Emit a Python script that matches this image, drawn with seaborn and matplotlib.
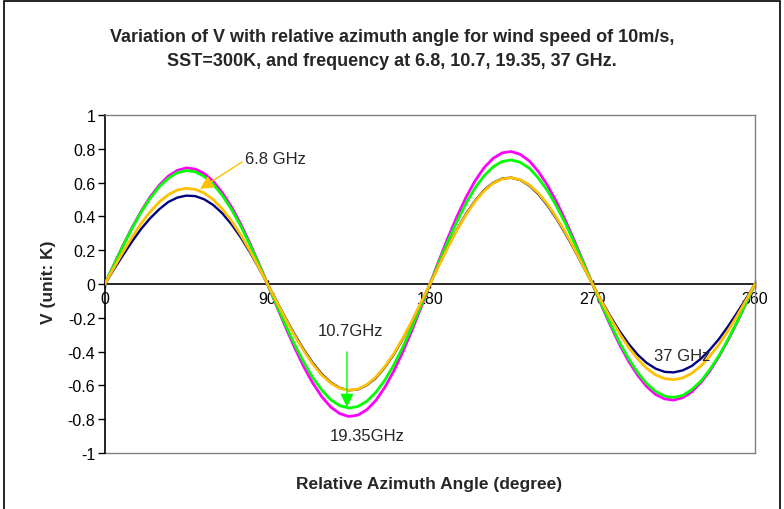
import matplotlib
matplotlib.use("Agg")
import matplotlib.pyplot as plt
import seaborn as sns
import pandas as pd
from matplotlib.patches import Rectangle

angles = list(range(0, 361, 5))

v_19_35 = [0, 0.116, 0.229, 0.334, 0.430, 0.515, 0.584, 0.638, 0.672, 0.687, 0.680, 0.654,
           0.607, 0.540, 0.457, 0.359, 0.247, 0.127, 0,
           -0.129, -0.255, -0.376, -0.488, -0.585, -0.666, -0.728, -0.767, -0.784, -0.776,
           -0.744, -0.689, -0.611, -0.514, -0.401, -0.275, -0.140, 0,
           0.140, 0.275, 0.401, 0.514, 0.611, 0.689, 0.744, 0.776, 0.784, 0.767, 0.728,
           0.666, 0.585, 0.488, 0.376, 0.255, 0.129, 0,
           -0.127, -0.247, -0.359, -0.457, -0.540, -0.607, -0.654, -0.680, -0.687, -0.672,
           -0.638, -0.584, -0.515, -0.430, -0.334, -0.229, -0.116, 0]
v_10_7 = [0, 0.114, 0.226, 0.330, 0.425, 0.507, 0.575, 0.625, 0.659, 0.671, 0.664, 0.636,
          0.589, 0.524, 0.442, 0.346, 0.237, 0.121, 0,
          -0.123, -0.243, -0.358, -0.461, -0.553, -0.627, -0.685, -0.720, -0.734, -0.725,
          -0.694, -0.641, -0.569, -0.478, -0.372, -0.255, -0.130, 0,
          0.130, 0.255, 0.372, 0.478, 0.569, 0.641, 0.694, 0.725, 0.734, 0.720, 0.685,
          0.627, 0.553, 0.461, 0.358, 0.243, 0.123, 0,
          -0.121, -0.237, -0.346, -0.442, -0.524, -0.589, -0.636, -0.664, -0.671, -0.659,
          -0.625, -0.575, -0.507, -0.425, -0.330, -0.226, -0.114, 0]
v_37 = [0, 0.088, 0.171, 0.252, 0.326, 0.389, 0.442, 0.485, 0.511, 0.523, 0.520, 0.501,
        0.467, 0.418, 0.354, 0.279, 0.193, 0.099, 0,
        -0.101, -0.202, -0.298, -0.387, -0.466, -0.532, -0.582, -0.615, -0.629, -0.624,
        -0.599, -0.556, -0.493, -0.416, -0.324, -0.223, -0.113, 0,
        0.113, 0.223, 0.324, 0.416, 0.493, 0.556, 0.599, 0.624, 0.629, 0.615, 0.582,
        0.532, 0.466, 0.387, 0.298, 0.202, 0.101, 0,
        -0.099, -0.193, -0.279, -0.354, -0.418, -0.467, -0.501, -0.520, -0.523, -0.511,
        -0.485, -0.442, -0.389, -0.326, -0.252, -0.171, -0.088, 0]
v_6_8 = [0, 0.097, 0.190, 0.278, 0.358, 0.427, 0.485, 0.528, 0.556, 0.566, 0.560, 0.538,
         0.499, 0.443, 0.375, 0.294, 0.202, 0.103, 0,
         -0.104, -0.207, -0.305, -0.394, -0.473, -0.538, -0.586, -0.617, -0.629, -0.622,
         -0.596, -0.551, -0.489, -0.411, -0.320, -0.220, -0.111, 0,
         0.111, 0.220, 0.320, 0.411, 0.489, 0.551, 0.596, 0.622, 0.629, 0.617, 0.586,
         0.538, 0.473, 0.394, 0.305, 0.207, 0.104, 0,
         -0.103, -0.202, -0.294, -0.375, -0.443, -0.499, -0.538, -0.560, -0.566, -0.556,
         -0.528, -0.485, -0.427, -0.358, -0.278, -0.190, -0.097, 0]

series_names = ["19.35 GHz", "10.7 GHz", "37 GHz", "6.8 GHz"]
series_values = [v_19_35, v_10_7, v_37, v_6_8]
colors = ["#FF00FF", "#00FF00", "#000080", "#FFC000"]

x_ticks = [0, 90, 180, 270, 360]
y_ticks = [-1, -0.8, -0.6, -0.4, -0.2, 0, 0.2, 0.4, 0.6, 0.8, 1]
y_tick_labels = ["-1", "-0.8", "-0.6", "-0.4", "-0.2", "0", "0.2", "0.4", "0.6", "0.8", "1"]

rows = []
for name, vals in zip(series_names, series_values):
    for a, v in zip(angles, vals):
        rows.append({"angle": a, "V": v, "freq": name})
df = pd.DataFrame(rows)

sns.set_style("white")
plt.rcParams["font.family"] = ["Liberation Sans", "DejaVu Sans"]

fig = plt.figure(figsize=(7.84, 5.10), dpi=100)
ax = fig.add_axes([105 / 784, (510 - 454) / 510, 650 / 784, 338 / 510])

sns.lineplot(data=df, x="angle", y="V", hue="freq", hue_order=series_names,
             palette=dict(zip(series_names, colors)), legend=False,
             linewidth=2.0, sort=False, ax=ax, zorder=3)
for line, lw in zip(ax.get_lines(), [2.0, 2.0, 1.7, 2.0]):
    line.set_linewidth(lw)

ax.set_xlim(0, 360)
ax.set_ylim(-1, 1)
ax.set_xticks(x_ticks)
ax.set_xticklabels([str(t) for t in x_ticks])
ax.set_yticks(y_ticks)
ax.set_yticklabels(y_tick_labels)

# spines
ax.spines["left"].set_color("black")
ax.spines["left"].set_linewidth(1.2)
ax.spines["bottom"].set_position(("data", 0))
ax.spines["bottom"].set_color("black")
ax.spines["bottom"].set_linewidth(1.2)
ax.spines["bottom"].set_zorder(2)
for s in ["top", "right"]:
    ax.spines[s].set_color("#808080")
    ax.spines[s].set_linewidth(1.0)
ax.plot([0, 1], [0, 0], transform=ax.transAxes, color="#808080", lw=1.0, clip_on=False, zorder=1)

ax.tick_params(axis="x", direction="inout", length=6, width=1, colors="black",
               labelsize=11.5, pad=2)
ax.tick_params(axis="y", direction="out", length=5, width=1, colors="black",
               labelsize=11.5, pad=2, left=True)
ax.tick_params(axis="x", bottom=True)

ax.set_xlabel("")
ax.set_ylabel("")
fig.text(48 / 784, (510 - 282) / 510, "V (unit: K)", rotation=90, fontsize=12.5,
         fontweight="bold", ha="center", va="center")
fig.text(429 / 784, (510 - 485) / 510, "Relative Azimuth Angle (degree)", fontsize=12.5,
         fontweight="bold", ha="center", va="center")

fig.text(392 / 784, (510 - 37) / 510,
         "Variation of V with relative azimuth angle for wind speed of 10m/s,",
         fontsize=13, fontweight="bold", ha="center", va="center")
fig.text(392 / 784, (510 - 62) / 510,
         "SST=300K, and frequency at 6.8, 10.7, 19.35, 37 GHz.",
         fontsize=13, fontweight="bold", ha="center", va="center")

# annotations
ax.annotate("", xy=(52.6, 0.562), xytext=(75.9, 0.722),
            arrowprops=dict(arrowstyle="-|>,head_length=0.8,head_width=0.4",
                            color="#FFC000", lw=1.0, shrinkA=0, shrinkB=0), zorder=5)
ax.text(77.5, 0.74, "6.8 GHz", fontsize=12, ha="left", va="center", zorder=5)

ax.annotate("", xy=(134, -0.728), xytext=(134, -0.402),
            arrowprops=dict(arrowstyle="-|>,head_length=0.8,head_width=0.4",
                            color="#00FF00", lw=1.0, shrinkA=0, shrinkB=0), zorder=5)
ax.text(135.7, -0.276, "10.7GHz", fontsize=12, ha="center", va="center", zorder=5)
ax.text(145, -0.898, "19.35GHz", fontsize=12, ha="center", va="center", zorder=5)
ax.text(319.5, -0.426, "37 GHz", fontsize=12, ha="center", va="center", zorder=5)

# outer chart frame
fig.patches.append(Rectangle((4 / 784, -0.02), 776 / 784, (508 / 510) + 0.02,
                             transform=fig.transFigure, fill=False,
                             edgecolor="black", lw=1.2))

fig.savefig("out.png", dpi=100)
